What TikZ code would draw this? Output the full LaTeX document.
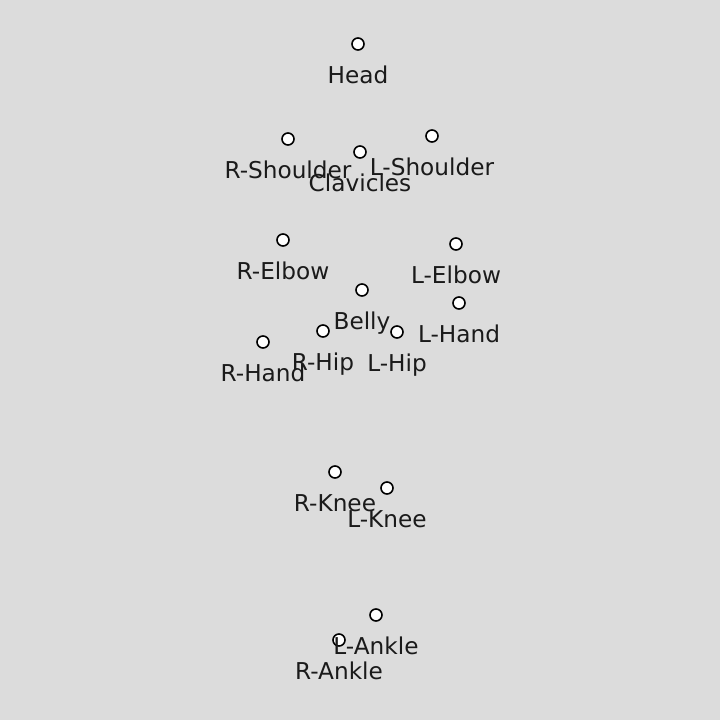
\documentclass[tikz,border=0pt]{standalone}
\usepackage{fontspec}
\setmainfont{DejaVu Sans}
\definecolor{bg}{HTML}{DCDCDC}
\definecolor{txt}{HTML}{1A1A1A}
\begin{document}
\begin{tikzpicture}[x=1pt,y=-1pt,
  joint/.style={circle,draw=black,fill=white,line width=1.6pt,minimum size=12pt,inner sep=0pt},
  lab/.style={anchor=base,text=txt,font=\fontsize{23.2}{26}\selectfont,inner sep=0pt}]
\fill[bg] (0,0) rectangle (720,720);
\useasboundingbox (0,0) rectangle (720,720);
\foreach \n/\x/\y in {Head/358/44, R-Shoulder/288/139, L-Shoulder/432/136, Clavicles/360/152,
  R-Elbow/283/240, L-Elbow/456/244, Belly/362/290, L-Hand/459/303, R-Hip/323/331,
  L-Hip/397/332, R-Hand/263/342, R-Knee/335/472, L-Knee/387/488, L-Ankle/376/615, R-Ankle/339/640}
  {\node[joint] (j\n) at (\x,\y) {};}
\foreach \n/\x/\y in {Head/358/44, R-Shoulder/288/139, L-Shoulder/432/136, Clavicles/360/152,
  R-Elbow/283/240, L-Elbow/456/244, Belly/362/290, L-Hand/459/303, R-Hip/323/331,
  L-Hip/397/332, R-Hand/263/342, R-Knee/335/472, L-Knee/387/488, L-Ankle/376/615, R-Ankle/339/640}
  {\node[lab] (l\n) at ([yshift=-39pt]j\n.center) {\n};}
\end{tikzpicture}
\end{document}
